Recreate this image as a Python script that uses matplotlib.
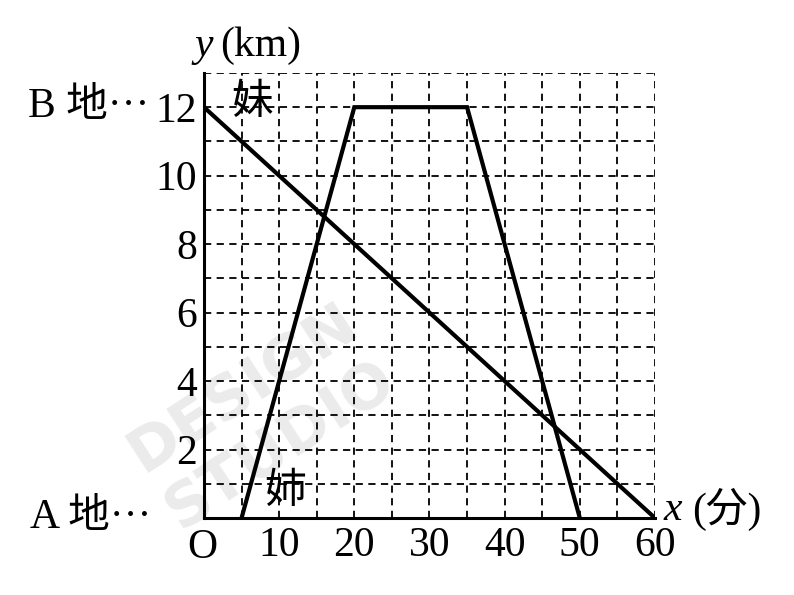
import matplotlib
matplotlib.use("Agg")
import matplotlib.pyplot as plt

plt.rcParams['font.family'] = ['Liberation Serif', 'Noto Sans CJK JP']

# data
imouto_x = [0, 60]
imouto_y = [12, 0]
ane_x = [5, 20, 35, 50]
ane_y = [0, 12, 12, 0]
x_ticks = [10, 20, 30, 40, 50, 60]
y_ticks = [2, 4, 6, 8, 10, 12]

font_size = 30

fig = plt.figure(figsize=(7.94, 5.95), dpi=100)
ax = fig.add_axes([0.2569, 0.1294, 0.568, 0.748])
ax.set_facecolor('none')

# faint watermark, under everything
ax.text(0.33, 0.3, "DESIGN\nSTUDIO", color='#ebebeb', fontsize=44, fontweight='bold',
        rotation=33, ha='center', va='center', family='DejaVu Sans', zorder=0,
        transform=fig.transFigure, clip_on=False)

ax.set_xlim(0, 60)
ax.set_ylim(0, 13)

# dashed grid
for gx in range(5, 61, 5):
    ax.axvline(gx, color='black', lw=1.3, ls=(0, (4, 3)), zorder=1)
for gy in range(1, 14):
    ax.axhline(gy, color='black', lw=1.3, ls=(0, (4, 3)), zorder=1)

ax.plot(imouto_x, imouto_y, color='black', lw=3, zorder=3, solid_capstyle='butt')
ax.plot(ane_x, ane_y, color='black', lw=3, zorder=3, solid_joinstyle='miter')

for s in ['top', 'right']:
    ax.spines[s].set_visible(False)
ax.spines['left'].set_linewidth(2.2)
ax.spines['bottom'].set_linewidth(2.2)

ax.set_xticks(x_ticks)
ax.set_yticks(y_ticks)
ax.tick_params(length=0, labelsize=font_size)
ax.tick_params(axis='x', pad=6)
ax.tick_params(axis='y', pad=5)

ax.text(-0.2, -0.88, "O", fontsize=font_size, ha='center', va='center', clip_on=False)
ax.text(-7.2, 12, "B 地···", fontsize=font_size, ha='right', va='center', clip_on=False)
ax.text(-7.0, 0, "A 地···", fontsize=font_size, ha='right', va='center', clip_on=False)
ax.text(-1.2, 13.8, "y", fontsize=font_size, style='italic', ha='left', va='center', clip_on=False)
ax.text(2.2, 13.8, "(km)", fontsize=font_size, ha='left', va='center', clip_on=False)
ax.text(61.2, 0.25, "x", fontsize=font_size, style='italic', ha='left', va='center', clip_on=False)
ax.text(65.0, 0.25, "(分)", fontsize=font_size, ha='left', va='center', clip_on=False)

ax.text(6.4, 12.1, "妹", fontsize=font_size, ha='center', va='center')
ax.text(10.8, 0.75, "姉", fontsize=font_size, ha='center', va='center')

fig.savefig("out.png", dpi=100)
